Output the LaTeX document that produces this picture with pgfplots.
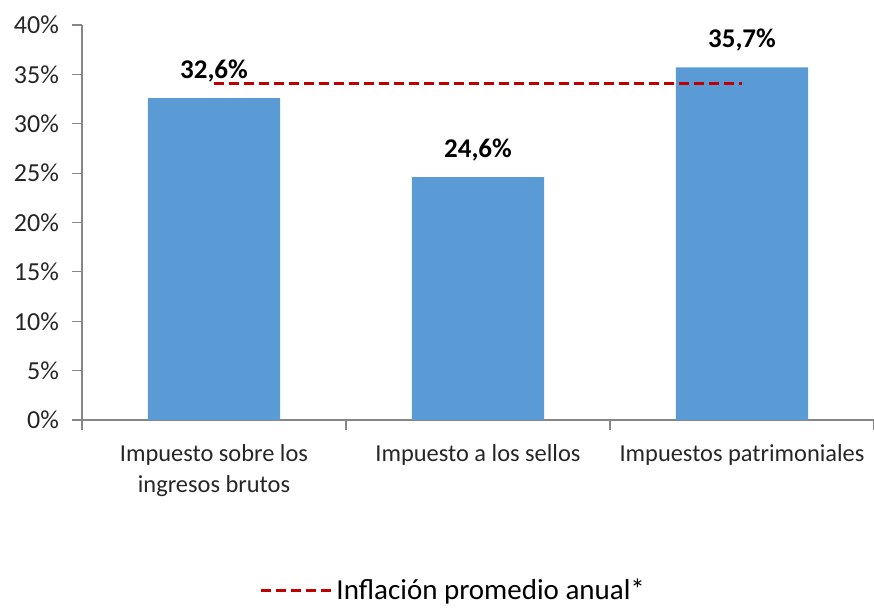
\documentclass[border=0pt]{standalone}
\usepackage{pgfplots}
\pgfplotsset{compat=1.18}
\usepackage{fontspec}
\setmainfont{Carlito}
\definecolor{barblue}{HTML}{5B9BD5}
\definecolor{infred}{HTML}{C00000}
\definecolor{axgray}{HTML}{868686}
\begin{document}
\begin{tikzpicture}
\begin{axis}[
  scale only axis, width=396pt, height=197.5pt,
  at={(0,0)}, anchor=south west,
  xmin=-0.5, xmax=2.5, ymin=0, ymax=40,
  axis x line*=bottom, axis y line*=left,
  axis line style={axgray, line width=0.6pt},
  tick style={axgray, line width=0.6pt},
  tick align=outside, major tick length=5pt,
  /pgf/number format/assume math mode=true,
  ytick={0,5,...,40},
  yticklabel={\pgfmathprintnumber{\tick}\%},
  yticklabel style={font=\fontsize{13}{15}\selectfont, text=black!85, xshift=-3pt},
  xtick={-0.5,0.5,1.5,2.5},
  xticklabels={},
  extra x ticks={0,1,2},
  extra x tick labels={{Impuesto sobre los\\ingresos brutos},{Impuesto a los sellos},{Impuestos patrimoniales}},
  extra x tick style={major tick length=0pt, tick style={draw=none},
    xticklabel style={align=center, font=\fontsize{12.2}{15.5}\selectfont, text=black!85, yshift=-8.5pt}},
  legend style={at={(axis description cs:0.47,-0.432)}, anchor=center, draw=none, fill=none,
    font=\fontsize{14.5}{16}\selectfont},
  legend image code/.code={\draw[#1] (0pt,0pt) -- (35pt,0pt);},
]
\addplot[ybar, bar width=66pt, fill=barblue, draw=none, forget plot,
  nodes near coords={\pgfmathprintnumber[fixed,fixed zerofill,precision=1,use comma]{\pgfplotspointmeta}\%},
  nodes near coords style={font=\bfseries\fontsize{13.5}{15}\selectfont, text=black, yshift=4.5pt}]
  coordinates {(0,32.6) (1,24.6) (2,35.7)};
\addplot[infred, line width=1.5pt, dash pattern=on 5pt off 2.5pt, mark=none]
  coordinates {(0,34.1) (1,34.1) (2,34.1)};
\addlegendentry{Inflación promedio anual*}
\end{axis}
\pgfresetboundingbox
\path (-41pt,-94.5pt) rectangle (396pt,210pt);
\end{tikzpicture}
\end{document}
